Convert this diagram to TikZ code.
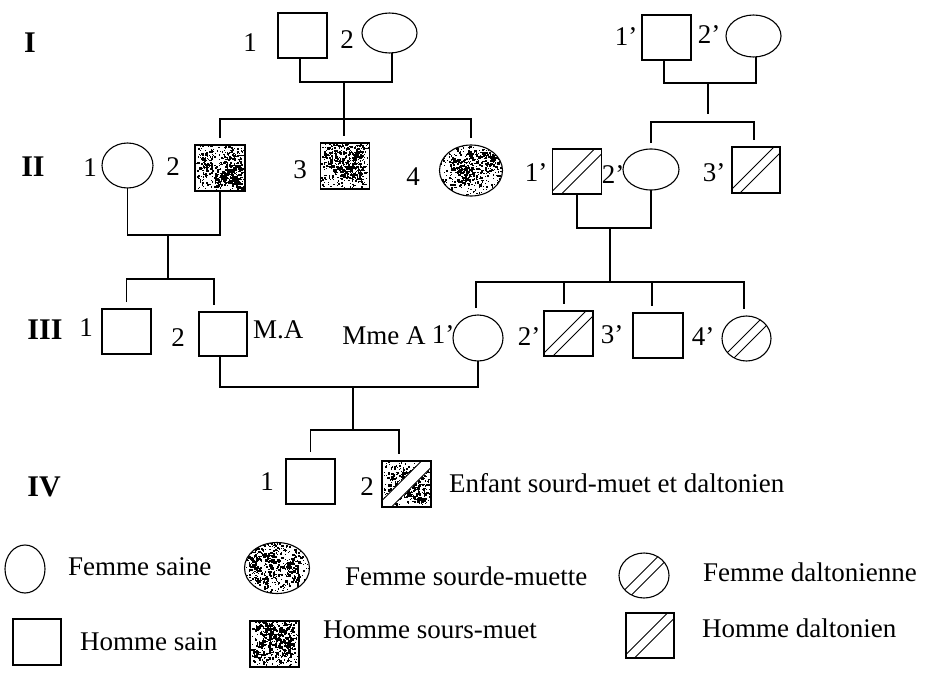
\documentclass[tikz,border=0pt]{standalone}
\usepackage{fontspec}
\setmainfont{Liberation Serif}
\usetikzlibrary{shapes.geometric,calc}

% clustered speckle: #1, #2 = half ranges of the cluster centres
\newcommand\speckle[2]{%
  \foreach \c in {1,...,38}{%
    \pgfmathsetmacro\spx{#1*rand}%
    \pgfmathsetmacro\spy{#2*rand}%
    \foreach \k in {1,...,9}{%
      \pgfmathsetmacro\spu{\spx+6*rand}%
      \pgfmathsetmacro\spv{\spy+6*rand}%
      \pgfmathsetmacro\sps{0.9+1.6*rnd}%
      \fill[black] ([shift={(\spu pt,\spv pt)}]path picture bounding box.center) rectangle ++(\sps pt,\sps pt);
    }}%
  \foreach \k in {1,...,200}{%
    \pgfmathsetmacro\spu{(#1+4)*rand}%
    \pgfmathsetmacro\spv{(#2+4)*rand}%
    \fill[black] ([shift={(\spu pt,\spv pt)}]path picture bounding box.center) rectangle ++(1.2pt,1.2pt);
  }}
\newcommand\hatchlines{%
  \draw[line width=0.8pt] ([shift={(-40pt,-35pt)}]path picture bounding box.center) -- ([shift={(40pt,45pt)}]path picture bounding box.center);
  \draw[line width=0.8pt] ([shift={(-40pt,-47pt)}]path picture bounding box.center) -- ([shift={(40pt,33pt)}]path picture bounding box.center);}
\newcommand\whiteband{%
  \fill[white] ([shift={(-40pt,-32pt)}]path picture bounding box.center) -- ([shift={(40pt,48pt)}]path picture bounding box.center) -- ([shift={(40pt,32pt)}]path picture bounding box.center) -- ([shift={(-40pt,-48pt)}]path picture bounding box.center) -- cycle;
  \draw[line width=0.8pt] ([shift={(-40pt,-32pt)}]path picture bounding box.center) -- ([shift={(40pt,48pt)}]path picture bounding box.center);
  \draw[line width=0.8pt] ([shift={(-40pt,-48pt)}]path picture bounding box.center) -- ([shift={(40pt,32pt)}]path picture bounding box.center);}

\begin{document}
\begin{tikzpicture}[x=1pt,y=-1pt,
  sym/.style={draw, line width=1.1pt, inner sep=0pt, outer sep=0pt},
  sq/.style={sym, rectangle, minimum width=49pt, minimum height=45pt},
  el/.style={sym, ellipse},
  deafsq/.style={path picture={\speckle{19}{18}}},
  deafel/.style={path picture={\speckle{27}{21}}},
  dalt/.style={path picture={\hatchlines}},
  both/.style={path picture={\speckle{19}{18}\whiteband}},
  lab/.style={inner sep=0pt, font=\fontsize{27}{31}\selectfont},
  gen/.style={inner sep=0pt, font=\fontsize{30}{34}\selectfont\bfseries},
  txt/.style={lab, anchor=west},
  link/.style={line width=1.2pt},
  kid/.style={link, shorten >=7pt}]
\pgfmathsetseed{4242}
\useasboundingbox[fill=white] (0,0) rectangle (931,674);

% ---------- Generation I ----------
\node[sq] (I1) at (302.5,35.5) {};
\node[el, minimum width=55pt, minimum height=40pt] (I2) at (389.5,33) {};
\node[sq] (I1p) at (666.5,37.5) {};
\node[el, minimum width=55pt, minimum height=42pt] (I2p) at (753.5,36) {};

% ---------- Generation II ----------
\node[el, minimum width=51pt, minimum height=45pt] (II1) at (127.5,165.5) {};
\node[sq, deafsq, minimum width=50pt, minimum height=46pt] (II2) at (220,168) {};
\node[sq, deafsq, minimum height=46pt] (II3) at (345,166) {};
\node[el, deafel, minimum width=63pt, minimum height=51pt] (II4) at (471,170.5) {};
\node[sq, dalt] (II1p) at (577,171.5) {};
\node[el, minimum width=56pt, minimum height=41pt] (II2p) at (651,169.5) {};
\node[sq, dalt, minimum width=48pt, minimum height=46pt] (II3p) at (756,170) {};

% ---------- Generation III ----------
\node[sq] (III1) at (126.5,331.5) {};
\node[sq, minimum width=48pt, minimum height=44pt] (III2) at (223,334) {};
\node[el, minimum width=50pt, minimum height=46pt] (III1p) at (478,338) {};
\node[sq, dalt] (III2p) at (568.5,333.5) {};
\node[sq, minimum width=50pt] (III3p) at (658,335.5) {};
\node[el, dalt, minimum width=49pt, minimum height=45pt] (III4p) at (746.5,338.5) {};

% ---------- Generation IV ----------
\node[sq] (IV1) at (310.5,481.5) {};
\node[sq, both, minimum height=46pt] (IV2) at (406.5,484) {};

% ---------- connectors ----------
\coordinate (mI) at (344,82);
\coordinate (sI) at (344,119);
\draw[link] ([xshift=-2.5pt]I1.south) |- (mI) -| ([xshift=2.5pt]I2.south);
\draw[link] (mI) -- (sI);
\draw[kid, shorten <=7pt] (II2.north) |- (sI) -| (II4.north);
\draw[kid] (sI) -- (sI |- II3.north);

\coordinate (mIp) at (708,83);
\coordinate (sIp) at (708,122);
\draw[link] ([xshift=-2.5pt]I1p.south) |- (mIp) -| ([xshift=2.5pt]I2p.south);
\draw[link, shorten >=8pt] (mIp) -- (sIp);
\draw[kid, shorten <=6pt] (II2p.north) |- (sIp) -| ([xshift=-2pt]II3p.north);

\coordinate (mII) at (168,235);
\coordinate (sII) at (168,279);
\draw[link] (II1.south) |- (mII) -| (II2.south);
\draw[link] (mII) -- (sII);
\draw[kid, shorten <=7pt] (III1.north) |- (sII) -| ([xshift=-9pt]III2.north);

\coordinate (mIIp) at (610,228);
\coordinate (sIIp) at (610,282);
\draw[link] (II1p.south) |- (mIIp) -| (II2p.south);
\draw[link] (mIIp) -- (sIIp);
\draw[kid, shorten <=7pt] ([xshift=-2pt]III1p.north) |- (sIIp) -| ([xshift=-2.5pt]III4p.north);
\coordinate (d2) at ([xshift=-4.5pt]III2p.north);
\coordinate (d3) at ([xshift=-6pt]III3p.north);
\draw[kid] (d2 |- sIIp) -- (d2);
\draw[kid] (d3 |- sIIp) -- (d3);

\coordinate (mIII) at (353,387);
\coordinate (sIII) at (353,430);
\draw[link] ([xshift=-3pt]III2.south) |- (mIII) -| (III1p.south);
\draw[link] (mIII) -- (sIII);
\draw[kid, shorten <=7pt] (IV1.north) |- (sIII) -| ([xshift=-7.5pt]IV2.north);

% ---------- generation numerals ----------
\node[gen] (gI) at (30,43) {I};
\node[gen] (gII) at (33,167) {II};
\node[gen] (gIII) at (45,330) {III};
\node[gen] (gIV) at (44,487) {IV};

% ---------- individual labels ----------
\node[lab] (tI1) at (250,43) {1};
\node[lab] (tI2) at (347,40) {2};
\node[lab] (tI1p) at (626,37) {1’};
\node[lab] (tI2p) at (709,35) {2’};
\node[lab] (tII1) at (90,168) {1};
\node[lab] (tII2) at (173,167) {2};
\node[lab] (tII3) at (300,170) {3};
\node[lab] (tII4) at (413,177) {4};
\node[lab] (tII1p) at (536,173) {1’};
\node[lab] (tII2p) at (613,175) {2’};
\node[lab] (tII3p) at (714,173) {3’};
\node[lab] (tIII1) at (86,328) {1};
\node[lab] (tIII2) at (178,338) {2};
\node[txt] (tMA) at (253,330) {M.A};
\node[lab] (tMmeA) at (384,336) {Mme A};
\node[lab] (tIII1p) at (443,335) {1’};
\node[lab] (tIII2p) at (529,337) {2’};
\node[lab] (tIII3p) at (612,335) {3’};
\node[lab] (tIII4p) at (703,337) {4’};
\node[lab] (tIV1) at (267,482) {1};
\node[lab] (tIV2) at (367,487) {2};
\node[txt] (tIV2d) at (449,483) {Enfant sourd-muet et daltonien};

% ---------- legend ----------
\node[el, minimum width=40pt, minimum height=48pt] (L1) at (25,569) {};
\node[txt] (L1t) at (68,567) {Femme saine};
\node[el, deafel, minimum width=65pt, minimum height=51pt] (L2) at (277,568) {};
\node[txt] (L2t) at (345,576) {Femme sourde-muette};
\node[el, dalt, minimum width=50pt, minimum height=45pt] (L3) at (644,575.5) {};
\node[txt] (L3t) at (703,572) {Femme daltonienne};
\node[sq, minimum width=48pt, minimum height=46pt] (L4) at (37,642) {};
\node[txt] (L4t) at (80,642) {Homme sain};
\node[sq, deafsq, minimum height=46pt] (L5) at (274.5,644) {};
\node[txt] (L5t) at (323,630) {Homme sours-muet};
\node[sq, dalt, minimum width=48pt] (L6) at (650,635.5) {};
\node[txt] (L6t) at (702,628) {Homme daltonien};
\end{tikzpicture}
\end{document}
